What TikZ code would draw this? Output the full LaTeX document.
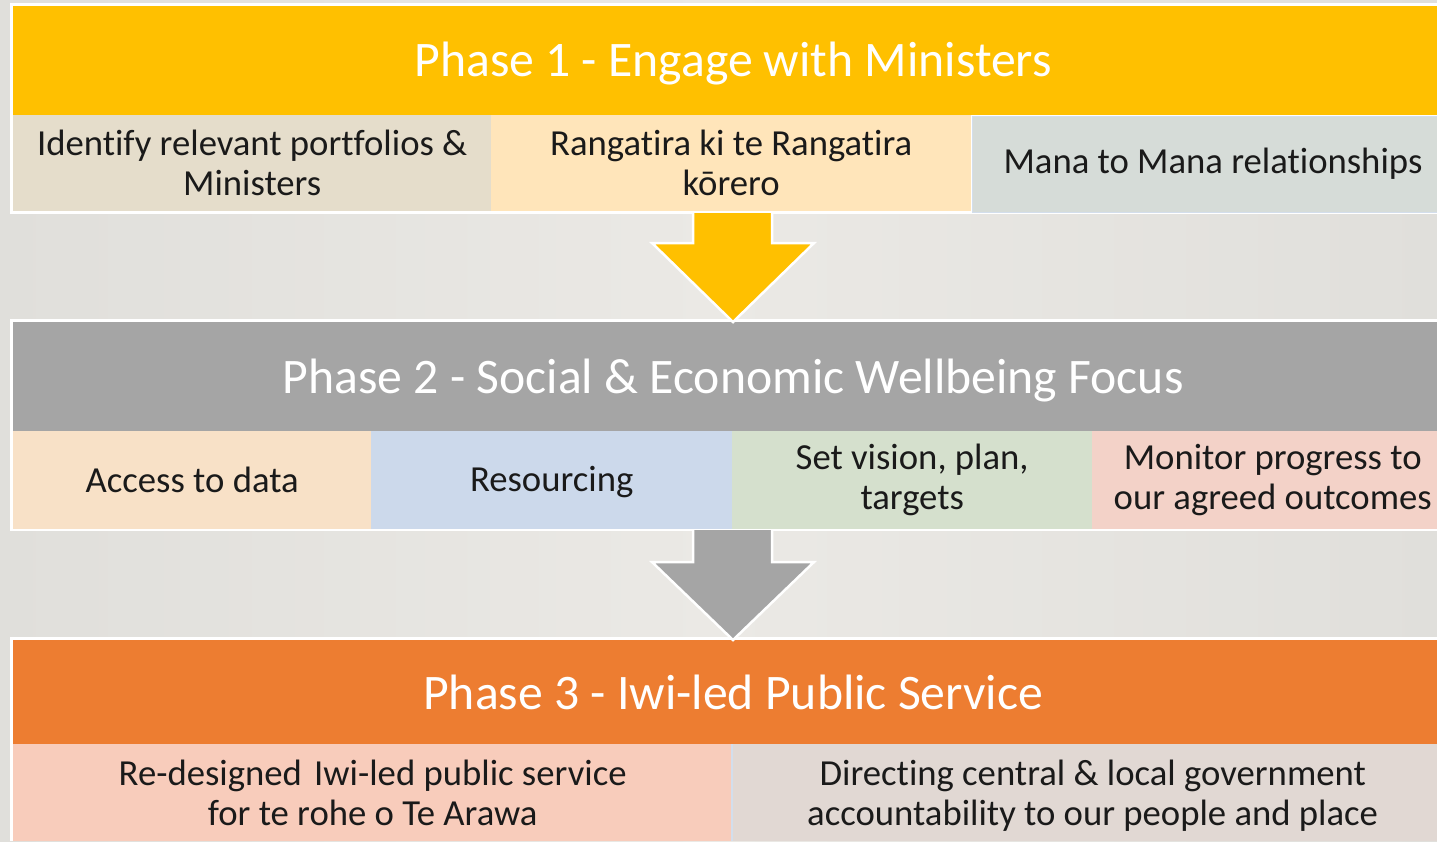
\documentclass[tikz,border=0pt]{standalone}
\usepackage{fontspec}
\setmainfont{Carlito}[Ligatures={NoCommon,NoRequired,NoContextual}]
\definecolor{bgL}{HTML}{E0DFDB}
\definecolor{bgM}{HTML}{EBE9E5}
\definecolor{yel}{HTML}{FFC000}
\definecolor{gry}{HTML}{A5A5A5}
\definecolor{org}{HTML}{ED7D31}
\definecolor{ra}{HTML}{E5DDCB}
\definecolor{rb}{HTML}{FFE5BA}
\definecolor{rc}{HTML}{D6DCD8}
\definecolor{sa}{HTML}{F8E1C7}
\definecolor{sb}{HTML}{CCD9EB}
\definecolor{sc}{HTML}{D5E0CD}
\definecolor{sd}{HTML}{F3D2C8}
\definecolor{ta}{HTML}{F8CCBB}
\definecolor{tb}{HTML}{E1D8D3}
\definecolor{txt}{HTML}{1A1A1A}
\definecolor{edgeblue}{HTML}{D3DEEC}
\begin{document}
\begin{tikzpicture}[x=1pt,y=-1pt,
  box/.style={draw=none, inner sep=0pt, anchor=north west, align=center, text=txt,
    font=\fontsize{36.7}{40}\selectfont},
  bar/.style={box, minimum width=1440pt},
  title/.style={inner sep=0pt, anchor=center, text=white, font=\fontsize{49.7}{55}\selectfont},
  whiteframe/.style={fill=white, draw=none},
  arrowedge/.style={draw=white, line width=2.5pt, line join=miter}]
% background
\useasboundingbox (0,0) rectangle (1437,841);
\clip (0,0) rectangle (1437,841);
\shade[left color=bgL, right color=bgL, middle color=bgM, shading angle=90] (0,0) rectangle (1437,841);
% white frames
\fill[whiteframe] (10,3) rectangle (1460,214);
\fill[whiteframe] (10,319) rectangle (1460,531);
\fill[whiteframe] (10,637) rectangle (1460,841);
% Phase 1
\node[bar, fill=yel, minimum height=109pt] (ph1) at (13,6) {};
\node[title] (ph1t) at ([yshift=-3pt]ph1.center) {Phase 1 - Engage with Ministers};
\node[box, fill=ra, minimum width=478pt, minimum height=96pt] (p1a) at (13,115) {Identify relevant portfolios \&\\Ministers};
\node[box, fill=rb, minimum width=480pt, minimum height=96pt] (p1b) at (491,115) {Rangatira ki te Rangatira\\kōrero};
\node[box, fill=rc, draw=edgeblue, line width=1pt, minimum width=482pt, minimum height=96pt] (p1c) at (971.5,115.5) {Mana to Mana relationships};
% Phase 2
\node[bar, fill=gry, minimum height=109pt] (ph2) at (13,322) {};
\node[title] (ph2t) at ([yshift=-4pt]ph2.center) {Phase 2 - Social \& Economic Wellbeing Focus};
\node[box, fill=sa, minimum width=358pt, minimum height=98pt] (p2a) at (13,431) {Access to data};
\node[box, fill=sb, minimum width=361pt, minimum height=98pt] (p2b) at (371,431) {};
\node[box, anchor=center] (p2bt) at ([yshift=-2pt]p2b.center) {Resourcing};
\node[box, fill=sc, minimum width=360pt, minimum height=98pt] (p2c) at (732,431) {Set vision, plan,\\targets};
\node[box, fill=sd, minimum width=361pt, minimum height=98pt] (p2d) at (1092,431) {Monitor progress to\\our agreed outcomes};
% Phase 3
\node[bar, fill=org, minimum height=104pt] (ph3) at (13,640) {};
\node[title] (ph3t) at (ph3.center) {Phase 3 - Iwi-led Public Service};
\node[box, fill=ta, minimum width=719pt, minimum height=97pt] (p3a) at (13,744) {Re-designed\kern4pt{} Iwi-led public service\\for te rohe o Te Arawa};
\node[box, fill=tb, minimum width=721pt, minimum height=97pt] (p3b) at (732,744) {};
\draw[edgeblue, line width=1.5pt] (p3b.north west) -- (p3b.south west);
\node[box, anchor=center] (p3bt) at ([yshift=-3pt]p3b.center) {Directing central \& local government\\accountability to our people and place};
% arrows
\coordinate (a1s) at (733,213);
\coordinate (a1t) at (733,322);
\coordinate (a2s) at (733,530);
\coordinate (a2t) at (733,640);
\fill[yel] ([xshift=-40pt]a1s) -- ([xshift=-40pt]a1s |- 0,243) -- (652,243) -- (a1t) -- (814,243) -- ([xshift=39pt]a1s |- 0,243) -- ([xshift=39pt]a1s) -- cycle;
\draw[arrowedge] ([xshift=-40pt]a1s) -- ([xshift=-40pt]a1s |- 0,243) -- (652,243) -- (a1t) -- (814,243) -- ([xshift=39pt]a1s |- 0,243) -- ([xshift=39pt]a1s);
\fill[gry] ([xshift=-40pt]a2s) -- ([xshift=-40pt]a2s |- 0,562) -- (652,562) -- (a2t) -- (814,562) -- ([xshift=39pt]a2s |- 0,562) -- ([xshift=39pt]a2s) -- cycle;
\draw[arrowedge] ([xshift=-40pt]a2s) -- ([xshift=-40pt]a2s |- 0,562) -- (652,562) -- (a2t) -- (814,562) -- ([xshift=39pt]a2s |- 0,562) -- ([xshift=39pt]a2s);
\end{tikzpicture}
\end{document}
